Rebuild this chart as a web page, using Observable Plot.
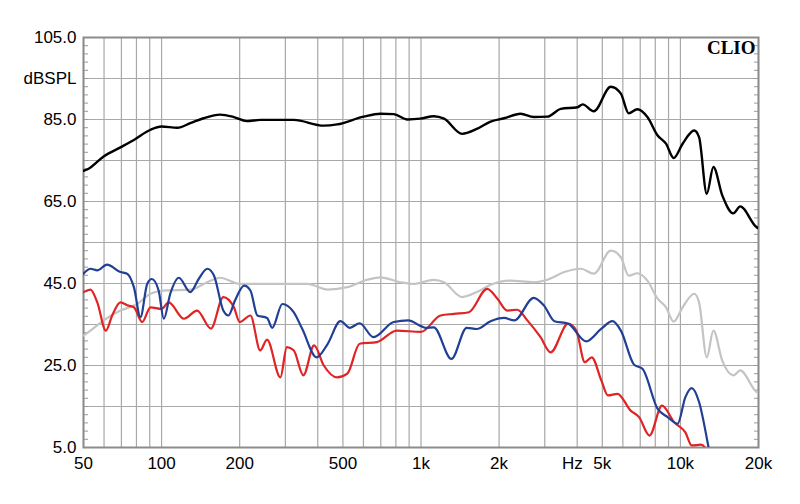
<!DOCTYPE html>
<html>
<head>
<meta charset="utf-8">
<script src="https://cdn.jsdelivr.net/npm/d3@7"></script>
<script src="https://cdn.jsdelivr.net/npm/@observablehq/plot@0.6"></script>
<style>
  html, body { margin: 0; padding: 0; background: #fff; }
  #chart svg { display: block; }
</style>
</head>
<body>
<div id="chart"></div>
<script>
// ---- data ----
const blackF  = [50, 52.3, 59.8, 69.4, 78.2, 90.6, 100, 115, 129, 145, 168, 190, 213, 240, 323, 422, 475, 601, 697, 785, 886, 994, 1120, 1227, 1440, 1640, 1854, 2090, 2420, 2720, 3070, 3460, 4015, 4200, 4636, 5390, 5895, 6320, 6820, 7460, 8170, 8800, 9420, 10200, 11300, 11800, 12640, 13400, 14500, 16000, 17000, 19700, 20000];
const blackDb = [72.5, 73.0, 76.0, 78.2, 80.0, 82.5, 83.3, 83.0, 84.1, 85.3, 86.2, 85.6, 84.6, 84.9, 84.9, 83.5, 83.8, 85.7, 86.4, 86.3, 85.0, 85.2, 85.8, 85.2, 81.5, 82.7, 84.5, 85.3, 86.4, 85.6, 85.7, 87.6, 88.0, 88.7, 87.0, 93.0, 91.3, 86.5, 87.5, 85.6, 81.1, 79.1, 75.6, 79.1, 82.3, 80.7, 66.9, 73.4, 66.5, 62.1, 63.8, 58.7, 58.5];

const grayF  = [50, 53.2, 59.8, 69.4, 80.6, 90.6, 104, 129, 150, 168, 200, 255, 365, 437, 520, 620, 697, 835, 935, 1120, 1227, 1440, 1640, 1854, 2210, 2720, 3070, 3570, 4140, 4636, 5390, 5895, 6320, 6820, 7460, 8170, 8800, 9420, 10200, 11300, 11800, 12640, 13400, 14500, 16000, 17000, 19700, 20000];
const grayDb = [32.3, 33.5, 36.0, 38.4, 40.0, 42.5, 43.3, 43.5, 45.3, 46.4, 44.9, 44.9, 44.9, 43.5, 44.1, 45.9, 46.5, 45.3, 44.9, 45.9, 45.3, 41.7, 42.9, 44.7, 45.7, 45.3, 45.9, 47.8, 48.6, 47.4, 53.0, 51.4, 46.9, 47.5, 45.7, 41.3, 39.2, 35.7, 39.2, 42.5, 40.4, 27.0, 33.5, 26.2, 22.6, 23.8, 18.5, 18.3];

const blueF  = [50, 53.2, 56.5, 61.6, 69.4, 73.6, 78.2, 82.9, 88, 91.7, 97.4, 102, 108, 116.6, 129, 139, 150, 159, 173, 181, 192, 208, 220, 234, 255, 267, 292, 323, 348, 396, 437, 489, 532, 580, 656, 785, 893, 1000, 1040, 1120, 1310, 1500, 1640, 1854, 2090, 2290, 2720, 2980, 3270, 3690, 4330, 4960, 5470, 5895, 6630, 7140, 8170, 8930, 9760, 10450, 11060, 11800, 12760, 13100];
const blueDb = [47.4, 48.6, 48.2, 49.6, 47.8, 47.4, 44.1, 36.8, 44.9, 46.1, 43.3, 36.4, 42.5, 46.4, 42.9, 46.1, 48.6, 47.0, 38.4, 37.2, 40.9, 44.5, 43.3, 37.2, 36.6, 34.2, 40.0, 38.0, 34.0, 27.0, 30.3, 35.8, 34.2, 35.3, 31.9, 35.6, 36.0, 34.6, 34.2, 34.3, 26.6, 34.2, 33.9, 35.8, 36.6, 36.0, 41.5, 39.6, 35.8, 35.2, 30.9, 34.0, 35.8, 33.5, 25.2, 24.2, 14.4, 12.4, 10.8, 17.3, 19.5, 16.1, 5.9, 2.0];

const redF  = [50, 53.2, 56.5, 61, 64.5, 69.4, 74.5, 78.2, 84.2, 90.6, 100, 106.5, 122, 137, 155, 173, 190, 200, 220, 240, 255, 287, 304, 323, 352, 387, 422, 475, 520, 580, 676, 806, 1000, 1190, 1340, 1530, 1800, 1970, 2150, 2350, 2570, 2890, 3160, 3690, 3970, 4280, 4550, 4960, 5260, 5720, 6430, 6930, 7600, 8490, 9480, 10450, 11060, 12000, 12400, 12900];
const redDb = [42.9, 43.5, 40.4, 33.5, 37.2, 40.4, 39.6, 39.2, 35.6, 39.2, 38.8, 40.4, 36.4, 38.4, 34.0, 41.7, 39.2, 35.6, 37.2, 28.7, 31.3, 22.1, 29.5, 28.7, 22.6, 29.9, 25.0, 22.1, 23.0, 30.3, 30.7, 33.5, 33.2, 37.2, 37.6, 38.0, 43.7, 41.3, 38.4, 38.6, 36.0, 31.9, 28.2, 35.2, 33.5, 25.8, 27.0, 21.3, 17.7, 18.1, 14.0, 12.4, 7.9, 15.2, 11.1, 8.7, 5.5, 5.7, 5.1, 2.0];

const xTicks = [50, 100, 200, 500, 1000, 2000, 5000, 10000, 20000];
const xTickLabels = ["50", "100", "200", "500", "1k", "2k", "5k", "10k", "20k"];
const yTicks = [5, 25, 45, 65, 85, 105];
const unitLabels = [{f: 3830, text: "Hz"}];
const yUnit = [{db: 95, text: "dBSPL"}];

const xGrid = [...d3.range(50, 100, 10), ...d3.range(100, 1000, 100), ...d3.range(1000, 10000, 1000), ...d3.range(10000, 20001, 10000)];
const yGrid = d3.range(5, 106, 10);
const yMinor = d3.range(5, 106, 2);

const toRows = (F, D) => F.map((f, i) => ({f, db: D[i]}));
const black = toRows(blackF, blackDb);
const gray = toRows(grayF, grayDb);
const blue = toRows(blueF, blueDb);
const red = toRows(redF, redDb);
const xLabelRows = xTicks.map((f, i) => ({f, text: xTickLabels[i]}));

const font = "'Liberation Sans', Arial, sans-serif";

const chart = Plot.plot({
  width: 800,
  height: 504,
  marginTop: 37,
  marginBottom: 57,
  marginLeft: 83,
  marginRight: 42,
  style: {fontFamily: font, fontSize: "17px", background: "#fff", color: "#000"},
  x: {type: "log", domain: [50, 20000], axis: null},
  y: {domain: [5, 105], axis: null},
  marks: [
    Plot.ruleX(xGrid, {x: d => d, stroke: "#a8a8a8", strokeWidth: 1.2}),
    Plot.ruleY(yGrid, {y: d => d, stroke: "#a8a8a8", strokeWidth: 1.2}),
    Plot.axisY({anchor: "left", ticks: yMinor, tickSize: -5, tickFormat: () => "", stroke: "#999", label: null}),
    Plot.axisY({anchor: "right", ticks: yMinor, tickSize: -5, tickFormat: () => "", stroke: "#999", label: null}),
    Plot.axisY({anchor: "left", ticks: yTicks, tickSize: 0, tickPadding: 7, tickFormat: d => d.toFixed(1), label: null, fontSize: 17, fill: "#000"}),
    Plot.text(yUnit, {y: "db", frameAnchor: "left", text: "text", textAnchor: "end", dx: -7, fontSize: 17, fill: "#000"}),
    Plot.text(xLabelRows, {x: "f", frameAnchor: "bottom", text: "text", dy: 21, fontSize: 17, fill: "#000"}),
    Plot.text(unitLabels, {x: "f", frameAnchor: "bottom", text: "text", dy: 21, fontSize: 17, fill: "#000"}),
    Plot.frame({stroke: "#8c8c8c", strokeWidth: 2}),
    Plot.line(gray, {x: "f", y: "db", stroke: "#c4c4c4", strokeWidth: 2.2, curve: "monotone-x", clip: true}),
    Plot.line(black, {x: "f", y: "db", stroke: "#000", strokeWidth: 2.4, curve: "monotone-x", clip: true}),
    Plot.line(red, {x: "f", y: "db", stroke: "#e02424", strokeWidth: 2.2, curve: "monotone-x", clip: true}),
    Plot.line(blue, {x: "f", y: "db", stroke: "#203f95", strokeWidth: 2.2, curve: "monotone-x", clip: true}),
    Plot.text(["CLIO"], {frameAnchor: "top-right", text: d => d, dx: -3, dy: 3, fontFamily: "'Liberation Serif', 'Times New Roman', serif", fontWeight: "bold", fontSize: 19, fill: "#000", lineAnchor: "top"})
  ]
});
document.getElementById("chart").appendChild(chart);
</script>
</body>
</html>
